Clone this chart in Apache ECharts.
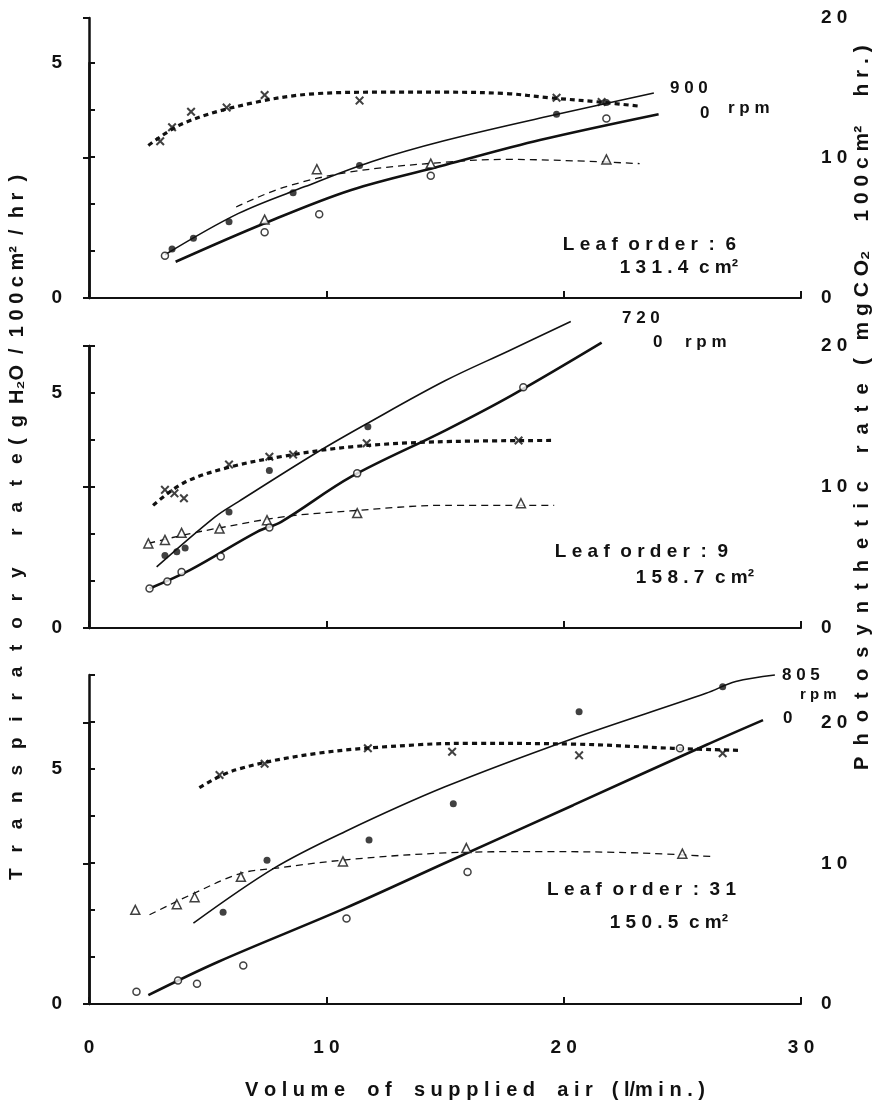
<!DOCTYPE html>
<html>
<head>
<meta charset="utf-8">
<script src="https://cdn.jsdelivr.net/npm/echarts@6/dist/echarts.min.js"></script>
<style>
html, body { margin: 0; padding: 0; background: #fff; }
#main { width: 877px; height: 1104px; }
</style>
</head>
<body>
<div id="main"></div>
<script>
const FONT = 'Liberation Sans';
const INK = '#111';

// x = supplied air (l/min); dot/open = transpiration (left axis), cross/tri = photosynthesis (right axis)
// leaf order 6
const p1Cross = [[3.0, 11.2], [3.5, 12.2], [4.3, 13.3], [5.8, 13.6], [7.4, 14.5], [11.4, 14.1], [19.7, 14.3], [21.6, 14.0]];
const p1CrossFit = [[2.5, 10.9], [4.0, 12.5], [6.8, 13.9], [9.6, 14.6], [12.4, 14.7], [15, 14.7], [17.6, 14.6], [19.4, 14.3], [21.5, 14.0], [23.2, 13.7]];
const p1Tri = [[7.4, 5.6], [9.6, 9.2], [14.4, 9.6], [21.8, 9.9]];
const p1TriFit = [[6.2, 6.5], [8.2, 7.9], [11, 9.0], [15, 9.7], [17.6, 9.9], [20.4, 9.8], [23.2, 9.6]];
const p1Dot = [[3.5, 1.04], [4.4, 1.27], [5.9, 1.62], [8.6, 2.24], [11.4, 2.82], [19.7, 3.91], [21.8, 4.16]];
const p1DotFit = [[3.2, 0.92], [6.3, 1.8], [9.1, 2.37], [11.9, 2.9], [15, 3.35], [19.3, 3.86], [23.8, 4.36]];
const p1Open = [[3.2, 0.9], [7.4, 1.4], [9.7, 1.78], [14.4, 2.6], [21.8, 3.82]];
const p1OpenFit = [[3.65, 0.77], [7.4, 1.59], [11.05, 2.3], [15, 2.83], [19, 3.36], [24, 3.91]];

// leaf order 9
const p2Cross = [[3.2, 9.8], [3.6, 9.55], [4.0, 9.2], [5.9, 11.6], [7.6, 12.15], [8.6, 12.3], [11.7, 13.1], [18.1, 13.3]];
const p2CrossFit = [[2.7, 8.7], [4.0, 10.3], [5.9, 11.4], [8.25, 12.2], [11.05, 12.85], [14.6, 13.2], [19.5, 13.3]];
const p2Tri = [[2.5, 6.0], [3.2, 6.25], [3.9, 6.75], [5.5, 7.05], [7.5, 7.65], [11.3, 8.15], [18.2, 8.85]];
const p2TriFit = [[2.5, 6.0], [4, 6.6], [5.5, 7.1], [8.25, 7.9], [11, 8.3], [15, 8.7], [19.6, 8.7]];
const p2Dot = [[3.2, 1.54], [3.7, 1.62], [4.05, 1.7], [5.9, 2.47], [7.6, 3.35], [11.75, 4.28], [18.1, 6.09]];
const p2DotFit = [[2.85, 1.3], [5.3, 2.36], [6.3, 2.69], [9.65, 3.75], [11.75, 4.36], [15, 5.26], [17.7, 5.9], [20.3, 6.52]];
const p2Open = [[2.55, 0.84], [3.3, 0.99], [3.9, 1.19], [5.55, 1.52], [7.6, 2.14], [11.3, 3.29], [18.3, 5.12]];
const p2OpenFit = [[2.55, 0.84], [4.25, 1.23], [7.1, 2.05], [8.1, 2.26], [11.05, 3.22], [15, 4.2], [17.85, 4.96], [21.6, 6.07]];

// leaf order 31
const p3Cross = [[5.5, 16.3], [7.4, 17.1], [11.75, 18.2], [15.3, 17.95], [20.65, 17.7], [26.7, 17.85]];
const p3CrossFit = [[4.65, 15.4], [6.15, 16.65], [9.65, 17.85], [13.85, 18.45], [16.2, 18.55], [20.4, 18.5], [24.6, 18.2], [27.4, 18.05]];
const p3Tri = [[1.95, 6.7], [3.7, 7.1], [4.45, 7.6], [6.4, 9.05], [10.7, 10.15], [15.9, 11.1], [25.0, 10.7]];
const p3TriFit = [[2.55, 6.35], [4.45, 7.9], [6.4, 9.3], [7.8, 9.65], [11.05, 10.3], [15, 10.75], [19, 10.85], [23.2, 10.75], [26.2, 10.5]];
const p3Dot = [[5.65, 1.95], [7.5, 3.06], [11.8, 3.49], [15.35, 4.26], [20.65, 6.22], [26.7, 6.75]];
const p3DotFit = [[4.4, 1.72], [7.8, 2.89], [10.8, 3.67], [15, 4.62], [20.4, 5.65], [26, 6.61], [27.25, 6.86], [28.9, 7.0]];
const p3Open = [[2.0, 0.26], [3.75, 0.5], [4.55, 0.43], [6.5, 0.82], [10.85, 1.82], [15.95, 2.81], [24.9, 5.44]];
const p3OpenFit = [[2.5, 0.19], [5.45, 0.9], [10.8, 2.04], [15, 3.0], [20.4, 4.23], [26, 5.51], [28.4, 6.04]];

const leftMax = [5, 6, 7];

const panels = [
    { cross: p1Cross, crossFit: p1CrossFit, tri: p1Tri, triFit: p1TriFit, dot: p1Dot, dotFit: p1DotFit, open: p1Open, openFit: p1OpenFit },
    { cross: p2Cross, crossFit: p2CrossFit, tri: p2Tri, triFit: p2TriFit, dot: p2Dot, dotFit: p2DotFit, open: p2Open, openFit: p2OpenFit },
    { cross: p3Cross, crossFit: p3CrossFit, tri: p3Tri, triFit: p3TriFit, dot: p3Dot, dotFit: p3DotFit, open: p3Open, openFit: p3OpenFit }
];

const CROSS = 'path://M0,1.6L1.6,0L5,3.4L8.4,0L10,1.6L6.6,5L10,8.4L8.4,10L5,6.6L1.6,10L0,8.4L3.4,5Z';

// spread letters apart like the typewritten original
function spread(s, gap, wordGap) {
    return s.split(' ').map(w => w.split('').join(gap)).join(wordGap);
}

function markers(data, idx, symbol, size, filled) {
    return {
        type: 'scatter', xAxisIndex: idx, yAxisIndex: idx, data: data,
        symbol: symbol, symbolSize: size, z: 5, silent: true,
        itemStyle: filled ? { color: INK } : { color: '#fff', borderColor: INK, borderWidth: 1.5 }
    };
}

function curve(data, idx, width, type) {
    return {
        type: 'line', xAxisIndex: idx, yAxisIndex: idx, data: data,
        smooth: 0.35, symbol: 'none', clip: false, silent: true, z: 3,
        lineStyle: { color: INK, width: width, type: type }
    };
}

const LEFT = 89, RIGHT = 76;
const grids = [
    { top: 63, height: 235 }, { top: 18, height: 280 },
    { top: 346, height: 282 }, { top: 346, height: 282 },
    { top: 675, height: 329 }, { top: 723, height: 281 }
].map(g => Object.assign({ left: LEFT, right: RIGHT }, g));

const labelFont = { color: INK, fontFamily: FONT, fontWeight: 'bold', fontSize: 19 };

const xAxes = grids.map((g, i) => ({
    gridIndex: i, type: 'value', min: 0, max: 30, interval: 10,
    show: i % 2 === 1,
    axisLine: { lineStyle: { color: INK, width: 2 } },
    axisTick: { inside: true, length: 7, lineStyle: { color: INK, width: 2 } },
    axisLabel: Object.assign({ show: i === 5, margin: 34, formatter: v => String(v).split('').join(' ') }, labelFont),
    splitLine: { show: false }
}));

const yAxes = grids.map((g, i) => {
    const left = i % 2 === 0;
    return {
        gridIndex: i, type: 'value', position: left ? 'left' : 'right',
        min: 0, max: left ? leftMax[i / 2] : 20, interval: left ? 1 : 10,
        axisLine: { show: true, lineStyle: { color: INK, width: 2.5 } },
        axisTick: { show: true, inside: true, length: 6, lineStyle: { color: INK, width: 2 } },
        axisLabel: Object.assign({
            margin: left ? 27 : 20,
            formatter: v => left ? (v % 5 === 0 ? String(v) : '') : String(v).split('').join(' ')
        }, labelFont),
        splitLine: { show: false }
    };
});

const series = [];
panels.forEach((p, k) => {
    const L = 2 * k, R = 2 * k + 1;
    series.push(
        curve(p.crossFit, R, 3.2, [5, 4]),
        markers(p.cross, R, CROSS, 9, true),
        curve(p.triFit, R, 1.3, [7, 5]),
        markers(p.tri, R, 'triangle', 9, false),
        curve(p.dotFit, L, 1.6, 'solid'),
        markers(p.dot, L, 'circle', 7, true),
        curve(p.openFit, L, 2.6, 'solid'),
        markers(p.open, L, 'circle', 7, false)
    );
});

function txt(text, x, y, size, align, rot) {
    return {
        type: 'text', x: x, y: y, rotation: rot || 0, silent: true,
        style: {
            text: text, fill: INK, font: 'bold ' + size + 'px "' + FONT + '"',
            textAlign: align || 'left', textVerticalAlign: 'middle'
        }
    };
}

const UP = Math.PI / 2;
const graphics = [
    // panel labels
    txt('9 0 0', 670, 88, 17), txt('0', 700, 113, 17), txt('r p m', 728, 108, 17),
    txt(spread('Leaf order : 6', ' ', '  '), 736, 245, 19, 'right'),
    txt('1 3 1 . 4  c m²', 738, 268, 19, 'right'),
    txt('7 2 0', 622, 318, 17), txt('0', 653, 342, 17), txt('r p m', 685, 342, 17),
    txt(spread('Leaf order : 9', ' ', '  '), 728, 552, 19, 'right'),
    txt('1 5 8 . 7  c m²', 754, 578, 19, 'right'),
    txt('8 0 5', 782, 675, 17), txt('r p m', 800, 695, 15), txt('0', 783, 718, 17),
    txt(spread('Leaf order : 31', ' ', '  '), 736, 890, 19, 'right'),
    txt('1 5 0 . 5  c m²', 728, 923, 19, 'right'),
    // axis titles (read bottom to top on the sides)
    txt(spread('Transpiratory rate', '   ', '      '), 17, 880, 19, 'left', UP),
    txt('(  g  H₂O  /  1 0 0 c m²  /  h r  )', 17, 445, 20, 'left', UP),
    txt(spread('Photosynthetic rate', '  ', '     '), 862, 770, 20, 'left', UP),
    txt('(   m g C O₂     1 0 0 c m²     h r . )', 862, 365, 21, 'left', UP),
    txt(spread('Volume of supplied air', ' ', '    '), 245, 1090, 20, 'left'),
    txt('( l/m i n . )', 705, 1090, 20, 'right')
];

const chart = echarts.init(document.getElementById('main'));
chart.setOption({
    animation: false,
    backgroundColor: '#fff',
    grid: grids,
    xAxis: xAxes,
    yAxis: yAxes,
    series: series,
    graphic: graphics
});
</script>
</body>
</html>
